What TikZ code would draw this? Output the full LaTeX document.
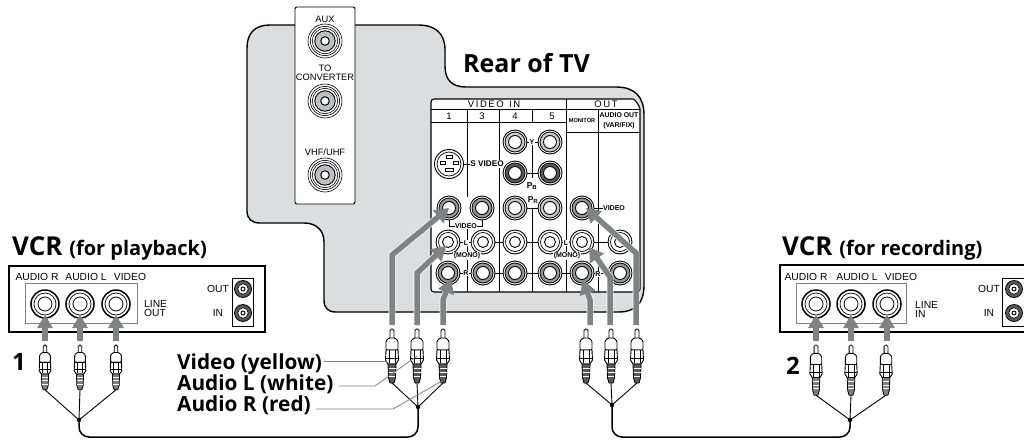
\documentclass[tikz,border=0pt]{standalone}
\usepackage{fontspec}
\setmainfont{Liberation Sans}
\newfontfamily\hdfont{Open Sans}
\usetikzlibrary{calc}
\definecolor{panelgray}{HTML}{DCDDDE}
\definecolor{arrowgray}{HTML}{808285}
\definecolor{ringgray}{HTML}{939598}
\definecolor{darkring}{HTML}{58595B}
\tikzset{
  outline/.style={draw=black,line width=1.2pt,line join=round},
  thinline/.style={draw=black,line width=.7pt},
  leader/.style={draw=gray,line width=.8pt},
  cable/.style={draw=black,line width=1.5pt,rounded corners=10pt},
  wire/.style={draw=black,line width=.9pt},
  small/.style={font=\fontsize{10.3}{10.5}\selectfont,inner sep=0pt,align=center},
  strip/.style={font=\fontsize{9.3}{9.6}\selectfont,inner sep=0pt,align=center},
  tiny/.style={font=\fontsize{7}{7.5}\selectfont\bfseries,inner sep=.6pt,fill=white,align=center},
  hdr/.style={font=\fontsize{9.5}{10}\selectfont,inner sep=0pt},
  bigt/.style={font=\hdfont\bfseries\fontsize{20.8}{21}\selectfont,inner sep=0pt,anchor=base west},
  vcrt/.style={font=\hdfont\bfseries\fontsize{26}{27}\selectfont,inner sep=0pt,anchor=base west},
  numt/.style={font=\hdfont\bfseries\fontsize{24}{25}\selectfont,inner sep=0pt},
}
% grey arrow head: optional width, from #2, tip #3, length #4
\newcommand\ahead[4][14]{%
  \path let \p1=(#2),\p2=(#3),\n1={atan2(\y2-\y1,\x2-\x1)} in
    [fill=arrowgray,shift={(\p2)},rotate=\n1]
    [fill] (0pt,0pt) -- (-#4pt,#1/2*1pt) -- (-#4pt,-#1/2*1pt) -- cycle;}
\newcommand\garr[3]{%
  \draw[white,line width=6.8pt,shorten >=11pt] (#1) -- (#2) -- (#3);
  \draw[arrowgray,line width=5.5pt,shorten >=11pt] (#1) -- (#2) -- (#3);
  \ahead[17]{#2}{#3}{14}}
\newcommand\jackW[3]{\coordinate (#1) at (#2,#3);
  \draw[line width=.9pt,fill=white] (#1) circle[radius=12pt];
  \draw[line width=.7pt] (#1) circle[radius=9.5pt];
  \draw[line width=.9pt] (#1) circle[radius=5.5pt];}
\newcommand\jackG[4][ringgray]{\coordinate (#2) at (#3,#4);
  \draw[line width=.9pt,fill=white] (#2) circle[radius=12pt];
  \draw[line width=.8pt,fill=#1] (#2) circle[radius=10pt];
  \draw[line width=.9pt,fill=white] (#2) circle[radius=6.5pt];}
\newcommand\jackV[3]{\coordinate (#1) at (#2,#3);
  \draw[line width=1.5pt,fill=white] (#1) circle[radius=14pt];
  \draw[line width=.7pt] (#1) circle[radius=11pt];
  \draw[line width=.8pt] (#1) circle[radius=7pt];}
\newcommand\coax[4]{\coordinate (#1) at (#2,#3);
  \draw[line width=.6pt,fill=white] (#1) circle[radius=#4*1pt];
  \draw[line width=.6pt] (#1) circle[radius=#4*.86pt];
  \draw[line width=.6pt] (#1) circle[radius=#4*.75pt];
  \draw[line width=.9pt,fill=ringgray!60] (#1) circle[radius=#4*.6pt];
  \draw[line width=1pt,fill=white] (#1) circle[radius=#4*.25pt];}
\newcommand\coaxS[3]{\coordinate (#1) at (#2,#3);
  \draw[line width=.8pt,fill=darkring] (#1) circle[radius=8.5pt];
  \draw[line width=.6pt,fill=white] (#1) circle[radius=5.2pt];
  \draw[line width=.9pt] (#1) circle[radius=2pt];}
% name, x, ytop, xscale, yscale, tail colour
\newcommand\plug[6]{\begin{scope}[shift={(#2,#3)},xscale=#4,yscale=#5]
  \coordinate (#1t) at (0,0); \coordinate (#1b) at (0,54);
  \draw[line width=.8pt,fill=white,rounded corners=1.5pt] (-2,10)--(-2,0)--(2,0)--(2,10);
  \draw[line width=.9pt,fill=white,rounded corners=1pt] (-6,21)--(-6,12)--(-3,9)--(3,9)--(6,12)--(6,21)--cycle;
  \draw[line width=.9pt,fill=white] (-6,21)--(-6.5,31)--(-4,35)--(4,35)--(6.5,31)--(6,21)--cycle;
  \draw[line width=.6pt] (-3,21)--(-3,34) (3,21)--(3,34) (-6.3,29)--(6.3,29);
  \draw[line width=.8pt,fill=#6] (-4,35)--(-3.5,49)--(-2,54)--(2,54)--(3.5,49)--(4,35)--cycle;
  \draw[line width=.5pt,white] (-3.5,39)--(3.5,39) (-3.5,43)--(3.5,43) (-3.3,47)--(3.3,47);
\end{scope}}
\begin{document}
\begin{tikzpicture}[x=1pt,y=-1pt]
\useasboundingbox (0,0) rectangle (1024,439);
\coordinate (cb) at (0,437);

% TV body
\draw[outline,line width=1.4pt,fill=panelgray]
  (247,48) .. controls (247,33) and (255,25) .. (270,25) -- (418,25)
  .. controls (435,25) and (445,33) .. (445,50) -- (445,66)
  .. controls (445,80) and (452,87) .. (466,87) -- (616,87)
  .. controls (635,87) and (644,97) .. (644,115) -- (644,285)
  .. controls (644,303) and (636,312) .. (618,312) -- (336,312)
  .. controls (328,312) and (324,308) .. (324,300) -- (324,242)
  .. controls (324,230) and (316,223) .. (304,223) -- (260,223)
  .. controls (252,223) and (247,219) .. (247,211) -- cycle;

% antenna strip
\draw[line width=.9pt,fill=white,rounded corners=2pt] (295,204) -- (295,7) -- (355,7) -- (355,204) -- cycle;
\coax{aux}{325}{41}{17}
\coax{conv}{325}{101}{17}
\coax{vhf}{325}{175}{17}
\node[strip] (tAux) at (325,19) {AUX};
\node[strip] (tTo) at (325,73) {TO\\[-1pt]CONVERTER};
\node[strip] (tVhf) at (325,152) {VHF/UHF};

% terminal panel
\draw[line width=1.1pt,fill=white,rounded corners=3pt] (431,292) -- (431,99) -- (630,99) to[out=0,in=90,looseness=.8] (640,112) -- (640,292) -- cycle;
\draw[thinline] (431,109) -- (640,109) (431,122) -- (566,122) (566,132) -- (640,132);
\draw[thinline] (566,99) -- (566,292) (598,109) -- (598,292);
\draw[thinline] (467,109) -- (467,197) (467,228) -- (467,292);
\draw[thinline] (499,109) -- (499,292);
\draw[thinline] (532,109) -- (532,122) (532,142) -- (532,178) (532,208) -- (532,292);
% links between jacks
\draw[thinline] (482,242) -- (620,242) (482,273) -- (582,273) (448,242) -- (482,242) (448,273) -- (482,273);
\draw[thinline] (515,142) -- (550,142) (515,173) -- (550,173) (515,208) -- (550,208);
\draw[thinline] (449,164) -- (475,164);
\draw[thinline] (582,208) -- (604,208) (582,273) -- (620,273);
\draw[thinline] (449,215) -- (449,226) -- (482,226) -- (482,215);

\node[hdr] (tVI) at (494,104) {V\,I\,D\,E\,O\ \ I\,N};
\node[hdr] (tOut) at (606,104) {O\,U\,T};
\node[hdr] (c1) at (449,116) {1};
\node[hdr] (c3) at (482,116) {3};
\node[hdr] (c4) at (515,116) {4};
\node[hdr] (c5) at (552,116) {5};
\node[tiny,font=\fontsize{5.6}{6}\selectfont\bfseries,fill=none] (tMon) at (582,121) {MONITOR};
\node[tiny,font=\fontsize{6.9}{9.6}\selectfont\bfseries,fill=none] (tAO) at (619,121) {AUDIO OUT\\(VAR/FIX)};

% jacks
\jackG[ringgray!50]{y4}{515}{142}\jackG[ringgray!50]{y5}{550}{142}
\jackG[darkring]{b4}{515}{173}\jackG[darkring]{b5}{550}{173}
\jackG{v1}{449}{208}\jackG{v3}{482}{208}\jackG[ringgray!50]{v4}{515}{208}\jackG[ringgray!50]{v5}{550}{208}\jackG{vm}{582}{208}
\jackW{l1}{448}{242}\jackW{l3}{483}{242}\jackW{l4}{515}{242}\jackW{l5}{550}{242}\jackW{lm}{582}{242}\jackW{la}{620}{242}
\jackG{r1}{448}{273}\jackG{r3}{483}{273}\jackG{r4}{515}{273}\jackG{r5}{550}{273}\jackG{rm}{582}{273}\jackG{ra}{620}{273}
% S video
\coordinate (sv) at (449,164);
\draw[line width=.9pt,fill=white] (sv) circle[radius=14.5pt];
\draw[line width=.7pt] (sv) circle[radius=12pt];
\draw[line width=.6pt] (446,155.5) rectangle (452,158.5) (440,161) rectangle (445,164) (453,161) rectangle (458,164) (445,168) rectangle (453,171.5);

% small labels
\node[tiny,font=\fontsize{8.2}{9}\selectfont\bfseries] (tSV) at (487,164) {S VIDEO};
\node[tiny] (tY) at (532,142) {Y};
\node[tiny,fill=none,font=\fontsize{8.5}{9}\selectfont\bfseries] (tPb) at (532,186) {P\textsubscript{B}};
\node[tiny,fill=none,font=\fontsize{8.5}{9}\selectfont\bfseries] (tPr) at (533,200) {P\textsubscript{R}};
\node[tiny] (tVid) at (466,226) {VIDEO};
\node[tiny] (tL1) at (466,243) {L};
\node[tiny] (tM1) at (467,256) {(MONO)};
\node[tiny] (tR1) at (466,273) {R};
\node[tiny] (tL2) at (566,243) {L};
\node[tiny] (tM2) at (567,256) {(MONO)};
\node[tiny] (tR2) at (598,274) {R};
\node[tiny] (tVid2) at (614,208) {VIDEO};

% left VCR
\draw[line width=1.1pt,fill=white] (9,266) rectangle (265,332);
\draw[draw=arrowgray,line width=.9pt] (25,283) rectangle (137,323);
\jackV{pa}{45}{304}\jackV{pb}{80}{304}\jackV{pc}{116}{304}
\node[small] (tAR) at (37,277) {AUDIO R};
\node[small] (tAL) at (86,277) {AUDIO L};
\node[small] (tAV) at (130,277) {VIDEO};
\node[small,anchor=west,align=left] (tLO) at (144,309) {LINE\\[-1.5pt]OUT};
\node[small] (tO1) at (218,289) {OUT};
\node[small] (tI1) at (218,313) {IN};
\draw[line width=.9pt,fill=white] (232,278) rectangle (253,326);
\coaxS{po}{243}{289}\coaxS{pi}{243}{313}
\node[vcrt] (tP) at (12,255) {VCR {\fontsize{20}{21}\selectfont (for playback)}};

% right VCR
\draw[line width=1.1pt,fill=white] (1026,265) -- (780,265) -- (780,332) -- (1026,332);
\draw[draw=arrowgray,line width=.9pt] (796,283) rectangle (906,323);
\jackV{qa}{816}{304}\jackV{qb}{851}{304}\jackV{qc}{887}{304}
\node[small] (tBR) at (806,277) {AUDIO R};
\node[small] (tBL) at (857,277) {AUDIO L};
\node[small] (tBV) at (901,277) {VIDEO};
\node[small,anchor=west,align=left] (tLI) at (915,309) {LINE\\[-1.5pt]IN};
\node[small] (tO2) at (989,289) {OUT};
\node[small] (tI2) at (989,313) {IN};
\draw[line width=.9pt,fill=white] (1026,278) -- (1002,278) -- (1002,326) -- (1026,326);
\coaxS{qo}{1014}{289}\coaxS{qi}{1014}{313}
\node[vcrt] (tQ) at (782,255) {VCR {\fontsize{20}{21}\selectfont (for recording)}};

\node[font=\hdfont\bfseries\fontsize{25}{26}\selectfont,inner sep=0pt,anchor=base west] (tRear) at (463,72.5) {Rear of TV};

% plugs
\plug{pA}{45}{345}{.9}{.83}{gray}\plug{pB}{80}{345}{.9}{.83}{gray}\plug{pC}{116}{345}{.9}{.83}{gray}
\plug{mA}{392}{329}{1}{1}{darkring}\plug{mB}{417}{329}{1}{1}{darkring}\plug{mC}{443}{329}{1}{1}{darkring}
\plug{nA}{586}{329}{1}{1}{darkring}\plug{nB}{611}{329}{1}{1}{darkring}\plug{nC}{637}{329}{1}{1}{darkring}
\plug{qA}{816}{345}{.95}{.93}{gray}\plug{qB}{851}{345}{.95}{.93}{gray}\plug{qC}{886}{345}{.95}{.93}{gray}

% junctions and cables
\coordinate (jP) at (79,420); \coordinate (jM) at (418,407);
\coordinate (jN) at (612,405); \coordinate (jQ) at (850,420);
\draw[wire] (pAb) -- (jP) (pBb) -- (jP) (pCb) -- (jP);
\draw[wire] (mAb) -- (jM) (mBb) -- (jM) (mCb) -- (jM);
\draw[wire] (nAb) -- (jN) (nBb) -- (jN) (nCb) -- (jN);
\draw[wire] (qAb) -- (jQ) (qBb) -- (jQ) (qCb) -- (jQ);
\fill (jP) circle[radius=2.2pt] (jM) circle[radius=2.2pt] (jN) circle[radius=2.2pt] (jQ) circle[radius=2.2pt];
\draw[cable] (jP) -- (jP|-cb) -- (jM|-cb) -- (jM);
\draw[cable] (jN) -- (jN|-cb) -- (jQ|-cb) -- (jQ);

% grey arrows
\coordinate (e1) at (392,325); \coordinate (b1) at (392,255); \coordinate (t1) at (449,208);
\coordinate (e2) at (417,325); \coordinate (b2) at (417,273); \coordinate (t2) at (446,246);
\coordinate (e3) at (443,325); \coordinate (b3) at (443,300); \coordinate (t3) at (451,279);
\coordinate (e4) at (590,325); \coordinate (b4) at (590,300); \coordinate (t4) at (583,280);
\coordinate (e5) at (610,325); \coordinate (b5) at (610,277); \coordinate (t5) at (589,247);
\coordinate (e6) at (636,325); \coordinate (b6) at (636,253); \coordinate (t6) at (586,208);
\garr{e1}{b1}{t1}
\garr{e2}{b2}{t2}
\garr{e3}{b3}{t3}
\garr{e4}{b4}{t4}
\garr{e5}{b5}{t5}
\garr{e6}{b6}{t6}
\foreach \a/\t/\xx in {pA/pa/45,pB/pb/80,pC/pc/116,qA/qa/816,qB/qb/851,qC/qc/887}{
  \coordinate (aS) at (\xx,340.5);
  \coordinate (aT) at (\xx,315);
  \draw[arrowgray,line width=5.5pt,shorten >=10pt] (aS) -- (aT);
  \ahead[16]{aS}{aT}{13}
}

% captions
\node[bigt] (tVy) at (177,369) {Video (yellow)};
\node[bigt] (tAw) at (177,390) {Audio L (white)};
\node[bigt] (tAr) at (177,411) {Audio R (red)};
\node[numt] (n1) at (19,362) {1};
\node[numt] (n2) at (793,366) {2};
\coordinate (la1) at (387,361);
\coordinate (la2) at (417,356);
\coordinate (la3) at (442,381);
\draw[leader] (tVy.east|-la1) ++(2,0) -- (la1);
\draw[leader] (339,386) -- (375,386) -- (la2);
\draw[leader] (316,409) -- (393,409) -- (la3);
\end{tikzpicture}
\end{document}
